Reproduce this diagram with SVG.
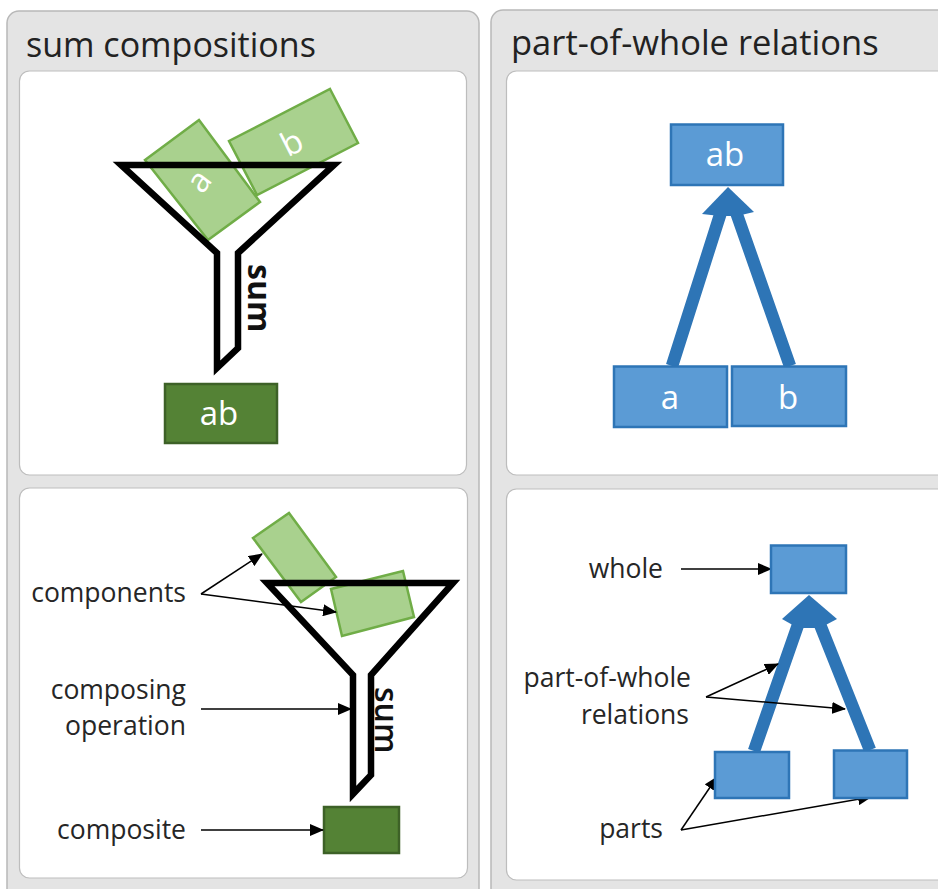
<svg xmlns="http://www.w3.org/2000/svg" width="938" height="889" viewBox="0 0 938 889">
<style>
text{font-family:"Open Sans","Noto Sans","Liberation Sans",sans-serif}
.outer{fill:#e4e4e4;stroke:#b8b8b8;stroke-width:1.5}
.inner{fill:#fff;stroke:#bdbdbd;stroke-width:1.2}
.title{font-size:34px;fill:#222}
.lbl{font-size:26.500px;fill:#262626}
.le{text-anchor:end}
.w{font-size:33px;fill:#fff;text-anchor:middle}
.lg{fill:#a9d18e;stroke:#70ad47;stroke-width:2.5}
.dg{fill:#548235;stroke:#3d6127;stroke-width:2.5}
.bl{fill:#5b9bd5;stroke:#2e75b6;stroke-width:2.5}
.fn{fill:none;stroke:#000;stroke-width:6.500;stroke-linejoin:miter}
.sum{font-size:32px;fill:#111}
.rel{stroke:#2e75b6;stroke-width:12.500;fill:none}
.head{fill:#2e75b6}
.ar{stroke:#000;stroke-width:1.5;fill:none;marker-end:url(#ah)}
</style>
<defs>
<marker id="ah" markerUnits="userSpaceOnUse" markerWidth="14" markerHeight="12" refX="13" refY="6" orient="auto"><path d="M0 0L14 6L0 12z" fill="#000"/></marker>
</defs>
<rect width="938" height="889" fill="#fff"/>
<g id="panels">
<rect class="outer" x="7" y="11" width="472" height="890" rx="12"/>
<rect class="outer" x="491" y="10" width="460" height="890" rx="12"/>
<rect class="inner" x="19.500" y="71" width="447" height="404" rx="10"/>
<rect class="inner" x="19.500" y="488" width="448" height="390" rx="10"/>
<rect class="inner" x="506.500" y="71" width="445" height="404" rx="10"/>
<rect class="inner" x="506.500" y="489" width="445" height="391" rx="10"/>
<text class="title" x="26" y="57">sum compositions</text>
<text class="title" x="511" y="55" style="font-size:34.500px">part-of-whole relations</text>
</g>
<g id="connectors">
<path class="rel" d="M672 366L721 212M790 366L736 212"/>
<path class="head" d="M728 187L754 212L737 216L720 216L702 214z"/>
<path class="rel" d="M754 751L799 622M870 750L819 622"/>
<path class="head" d="M809 595L837 619L820 628L798 628L782 619z"/>
<path class="ar" d="M681 569H771"/>
<path class="ar" d="M706 697L778 664"/>
<path class="ar" d="M706 697L845 709"/>
<path class="ar" d="M681 830L717 777"/>
<path class="ar" d="M681 830L871 797"/>
</g>
<g id="node-funnel1">
<polygon class="lg" points="330,89 358,143 257,195 229,141"/>
<text class="w" transform="translate(292 143) rotate(-27)" y="11">b</text>
<polygon class="lg" points="199,120 260,202 208,240 145,160"/>
<text class="w" transform="translate(199 181) rotate(-53)" y="11">a</text>
<path class="fn" d="M121 165H334L238 253V348L217 368V253z"/>
<text class="sum" transform="translate(248 264) rotate(90)" font-weight="700">sum</text>
</g>
<g id="node-ab-composite"><rect class="dg" x="165" y="384" width="112" height="59"/><text class="w" x="219" y="425">ab</text></g>
<g id="node-ab-whole"><rect class="bl" x="671" y="124.500" width="112" height="60.500"/><text class="w" x="725" y="166">ab</text></g>
<g id="node-a-part"><rect class="bl" x="614" y="366.500" width="113" height="60.500"/><text class="w" x="670" y="409">a</text></g>
<g id="node-b-part"><rect class="bl" x="732" y="366.500" width="114" height="59.500"/><text class="w" x="788" y="409">b</text></g>
<g id="node-funnel2">
<polygon class="lg" points="289,513 336,577 301,602 253,538"/>
<polygon class="lg" points="403,571 414,617 342,636 331,589"/>
<path class="ar" d="M201 594L262 554"/>
<path class="ar" d="M201 594L336 612"/>
<path class="fn" d="M267 583H453L371 675V775L353 794V675z"/>
<text class="sum" transform="translate(375 687) rotate(90)" font-weight="600">sum</text>
</g>
<g id="node-composite2"><rect class="dg" x="324" y="807" width="75" height="46"/></g>
<g id="connectors-left">
<path class="ar" d="M201 709H351"/>
<path class="ar" d="M201 830H323"/>
</g>
<g id="node-whole"><rect class="bl" x="771" y="545.500" width="75" height="47.500"/></g>
<g id="node-part1"><rect class="bl" x="715" y="752" width="74" height="46"/></g>
<g id="node-part2"><rect class="bl" x="834" y="750.500" width="73" height="47.500"/></g>
<g id="labels">
<text class="lbl le" x="186" y="602">components</text>
<text class="lbl le" x="186" y="699">composing</text>
<text class="lbl le" x="186" y="735">operation</text>
<text class="lbl le" x="186" y="839">composite</text>
<text class="lbl le" x="663" y="578">whole</text>
<text class="lbl le" x="691" y="687">part-of-whole</text>
<text class="lbl le" x="689" y="724">relations</text>
<text class="lbl le" x="663" y="838">parts</text>
</g>
</svg>
